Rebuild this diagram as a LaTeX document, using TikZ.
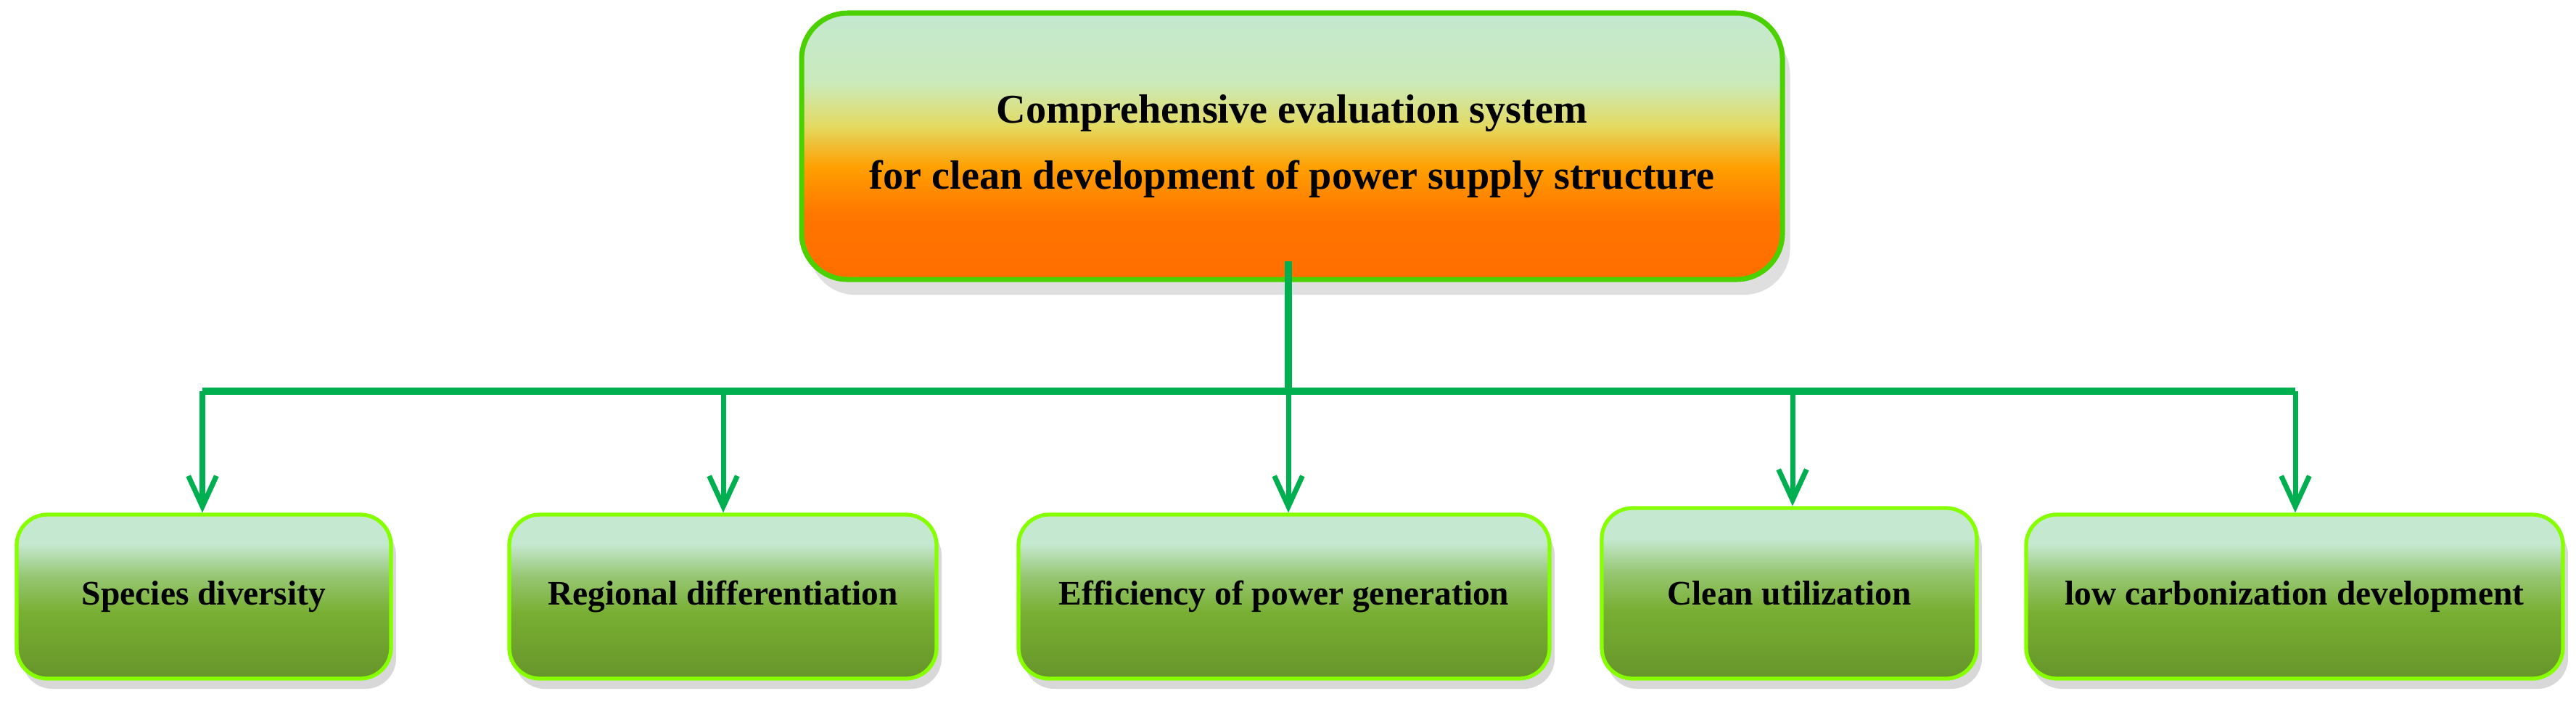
\documentclass[tikz,border=0pt]{standalone}
\usepackage{fontspec}
\setmainfont{Liberation Serif}
\usetikzlibrary{arrows.meta,shadows}
\definecolor{lg}{RGB}{196,232,208}
\definecolor{mg}{RGB}{120,175,50}
\definecolor{or}{RGB}{255,110,0}
\definecolor{ln}{RGB}{0,176,80}
\pgfdeclareverticalshading{topshade}{100bp}{color(0bp)=(or); color(25bp)=(or); color(37bp)=(or!95!yellow); color(46bp)=(orange!75!yellow); color(54bp)=(yellow!40!lg!80!orange); color(62bp)=(lg!90!yellow); color(75bp)=(lg); color(100bp)=(lg)}
\pgfdeclareverticalshading{leafshade}{100bp}{color(0bp)=(mg!85!black); color(25bp)=(mg!85!black); color(45bp)=(mg); color(56bp)=(mg!60!lg); color(66bp)=(lg); color(75bp)=(lg); color(100bp)=(lg)}
\tikzset{
 topbox/.style={draw=green!70!black!60!lime,line width=2pt,rounded corners=18pt,shading=topshade,drop shadow={opacity=0.25,shadow xshift=3pt,shadow yshift=-6pt},font=\bfseries\fontsize{16}{26}\selectfont,align=center},
 leaf/.style={draw=lime!70!green,line width=1.5pt,rounded corners=12pt,shading=leafshade,drop shadow={opacity=0.3,shadow xshift=2pt,shadow yshift=-4pt},font=\bfseries\fontsize{13.5}{16}\selectfont,align=center},
 conn/.style={draw=ln,line width=2.8pt},
 arr/.style={draw=ln,line width=2pt,-{Straight Barb[length=12pt,width=11pt,line width=2pt]}}
}
\begin{document}
\begin{tikzpicture}
\useasboundingbox (0,0) rectangle (35.51,-9.69);
\fill[white] (0,0) rectangle (35.51,-9.69);
\node[topbox,minimum width=13.52cm,minimum height=3.67cm] (top) at (17.81,-2.015) {Comprehensive evaluation system\\for clean development of power supply structure};
\node[leaf,minimum width=5.16cm,minimum height=2.26cm] (a) at (2.81,-8.22) {Species diversity};
\node[leaf,minimum width=5.89cm,minimum height=2.26cm] (b) at (9.965,-8.22) {Regional differentiation};
\node[leaf,minimum width=7.32cm,minimum height=2.26cm] (c) at (17.70,-8.22) {Efficiency of power generation};
\node[leaf,minimum width=5.17cm,minimum height=2.35cm] (d) at (24.665,-8.175) {Clean utilization};
\node[leaf,minimum width=7.40cm,minimum height=2.26cm] (e) at (31.63,-8.22) {low carbonization development};
\coordinate (j) at (17.76,-5.39);
\coordinate (ja) at (2.79,-5.39);
\coordinate (jb) at (9.97,-5.39);
\coordinate (jc) at (17.76,-5.39);
\coordinate (jd) at (24.71,-5.39);
\coordinate (je) at (31.64,-5.39);
\draw[conn] (17.76,-3.6) -- (j);
\draw[conn] (ja) -- (je);
\draw[arr] (ja) -- (ja |- a.north);
\draw[arr] (jb) -- (jb |- b.north);
\draw[arr] (jc) -- (jc |- c.north);
\draw[arr] (jd) -- (jd |- d.north);
\draw[arr] (je) -- (je |- e.north);
\end{tikzpicture}
\end{document}
